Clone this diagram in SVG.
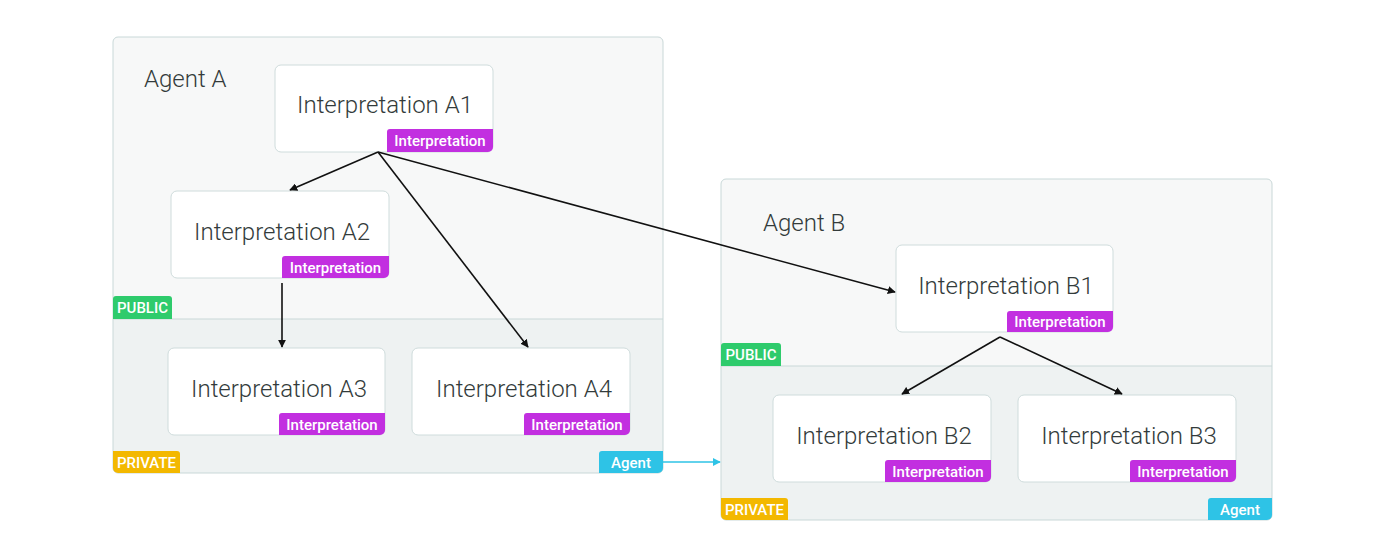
<svg xmlns="http://www.w3.org/2000/svg" width="1400" height="551" viewBox="0 0 1400 551">
<defs>
<style>
.pub{fill:#f7f8f8;}
.priv{fill:#eef2f2;}
.frame{fill:none;stroke:#c9d8d8;stroke-width:1;}
.node{fill:#ffffff;stroke:#cfdcdc;stroke-width:1;}
.title{font-family:Roboto,"Liberation Sans",sans-serif;font-weight:300;font-size:24px;fill:#333b3b;}
.tag{font-family:Roboto,"Liberation Sans",sans-serif;font-weight:500;font-size:15px;fill:#ffffff;text-anchor:middle;}
.itag{fill:#c22fe0;}
.green{fill:#2ecb6c;}
.yellow{fill:#f3b800;}
.blue{fill:#2ec3e6;}
.edge{fill:none;stroke:#111;stroke-width:1.6;}
.aedge{fill:none;stroke:#2ec3e6;stroke-width:1.6;}
</style>
<marker id="ah" viewBox="0 0 10 10" refX="9" refY="5" markerWidth="8" markerHeight="8" markerUnits="userSpaceOnUse" orient="auto"><path d="M0,0 L10,5 L0,10 z" fill="#111"/></marker>
<marker id="ahb" viewBox="0 0 10 10" refX="9" refY="5" markerWidth="8" markerHeight="8" markerUnits="userSpaceOnUse" orient="auto"><path d="M0,0 L10,5 L0,10 z" fill="#2ec3e6"/></marker>
</defs>

<g id="agentA">
<path class="pub" d="M118,37 H658 a5,5 0 0 1 5,5 V319 H113 V42 a5,5 0 0 1 5,-5 z"/>
<path class="priv" d="M113,319 H663 V468 a5,5 0 0 1 -5,5 H118 a5,5 0 0 1 -5,-5 z"/>
<line x1="113" y1="319" x2="663" y2="319" stroke="#c9d8d8"/>
<rect class="frame" x="113" y="37" width="550" height="436" rx="5"/>
<text class="title" x="144" y="87">Agent A</text>
<path class="green" d="M113,319 V299 a3,3 0 0 1 3,-3 H169 a3,3 0 0 1 3,3 V319 z"/>
<text class="tag" x="142.5" y="313">PUBLIC</text>
<path class="yellow" d="M113,451 H177 a3,3 0 0 1 3,3 V473 H118 a5,5 0 0 1 -5,-5 z"/>
<text class="tag" x="146.5" y="467.5">PRIVATE</text>
<path class="blue" d="M602,451 H663 V468 a5,5 0 0 1 -5,5 H599 V454 a3,3 0 0 1 3,-3 z"/>
<text class="tag" x="631" y="467.5">Agent</text>
</g>

<g id="agentB">
<path class="pub" d="M726,179 H1267 a5,5 0 0 1 5,5 V366 H721 V184 a5,5 0 0 1 5,-5 z"/>
<path class="priv" d="M721,366 H1272 V515 a5,5 0 0 1 -5,5 H726 a5,5 0 0 1 -5,-5 z"/>
<line x1="721" y1="366" x2="1272" y2="366" stroke="#c9d8d8"/>
<rect class="frame" x="721" y="179" width="551" height="341" rx="5"/>
<text class="title" x="763" y="231">Agent B</text>
<path class="green" d="M721,366 V346 a3,3 0 0 1 3,-3 H778 a3,3 0 0 1 3,3 V366 z"/>
<text class="tag" x="751" y="360">PUBLIC</text>
<path class="yellow" d="M721,498 H785 a3,3 0 0 1 3,3 V520 H726 a5,5 0 0 1 -5,-5 z"/>
<text class="tag" x="754.5" y="514.5">PRIVATE</text>
<path class="blue" d="M1211,498 H1272 V515 a5,5 0 0 1 -5,5 H1208 V501 a3,3 0 0 1 3,-3 z"/>
<text class="tag" x="1240" y="514.5">Agent</text>
</g>

<g id="nodeA1">
<rect class="node" x="275" y="65" width="218" height="87" rx="6"/>
<text class="title" x="385" y="113" text-anchor="middle">Interpretation A1</text>
<path class="itag" d="M387,132 a3,3 0 0 1 3,-3 H493 V147 a5,5 0 0 1 -5,5 H387 z"/>
<text class="tag" x="440" y="146">Interpretation</text>
</g>
<g id="nodeA2">
<rect class="node" x="171" y="191" width="218" height="87" rx="6"/>
<text class="title" x="282" y="240" text-anchor="middle">Interpretation A2</text>
<path class="itag" d="M282,259 a3,3 0 0 1 3,-3 H389 V273 a5,5 0 0 1 -5,5 H282 z"/>
<text class="tag" x="335.5" y="272.5">Interpretation</text>
</g>
<g id="nodeA3">
<rect class="node" x="168" y="348" width="217" height="87" rx="6"/>
<text class="title" x="279" y="397" text-anchor="middle">Interpretation A3</text>
<path class="itag" d="M279,416 a3,3 0 0 1 3,-3 H385 V430 a5,5 0 0 1 -5,5 H279 z"/>
<text class="tag" x="332" y="429.5">Interpretation</text>
</g>
<g id="nodeA4">
<rect class="node" x="412" y="348" width="218" height="87" rx="6"/>
<text class="title" x="524" y="397" text-anchor="middle">Interpretation A4</text>
<path class="itag" d="M524,416 a3,3 0 0 1 3,-3 H630 V430 a5,5 0 0 1 -5,5 H524 z"/>
<text class="tag" x="577" y="429.5">Interpretation</text>
</g>
<g id="nodeB1">
<rect class="node" x="896" y="245" width="217" height="87" rx="6"/>
<text class="title" x="1006" y="294" text-anchor="middle">Interpretation B1</text>
<path class="itag" d="M1007,314 a3,3 0 0 1 3,-3 H1113 V327 a5,5 0 0 1 -5,5 H1007 z"/>
<text class="tag" x="1060" y="326.5">Interpretation</text>
</g>
<g id="nodeB2">
<rect class="node" x="773" y="395" width="218" height="87" rx="6"/>
<text class="title" x="884" y="444" text-anchor="middle">Interpretation B2</text>
<path class="itag" d="M885,463 a3,3 0 0 1 3,-3 H991 V477 a5,5 0 0 1 -5,5 H885 z"/>
<text class="tag" x="938" y="476.5">Interpretation</text>
</g>
<g id="nodeB3">
<rect class="node" x="1018" y="395" width="218" height="87" rx="6"/>
<text class="title" x="1129" y="444" text-anchor="middle">Interpretation B3</text>
<path class="itag" d="M1130,463 a3,3 0 0 1 3,-3 H1236 V477 a5,5 0 0 1 -5,5 H1130 z"/>
<text class="tag" x="1183" y="476.5">Interpretation</text>
</g>

<g id="connectors">
<line class="edge" x1="378" y1="152" x2="290" y2="190" marker-end="url(#ah)"/>
<line class="edge" x1="378" y1="152" x2="528" y2="347" marker-end="url(#ah)"/>
<line class="edge" x1="378" y1="152" x2="895" y2="292" marker-end="url(#ah)"/>
<line class="edge" x1="282" y1="283" x2="282" y2="347" marker-end="url(#ah)"/>
<line class="edge" x1="1000" y1="337" x2="902" y2="394" marker-end="url(#ah)"/>
<line class="edge" x1="1000" y1="337" x2="1122" y2="394" marker-end="url(#ah)"/>
<line class="aedge" x1="663" y1="462" x2="720" y2="462" marker-end="url(#ahb)"/>
</g>
</svg>
